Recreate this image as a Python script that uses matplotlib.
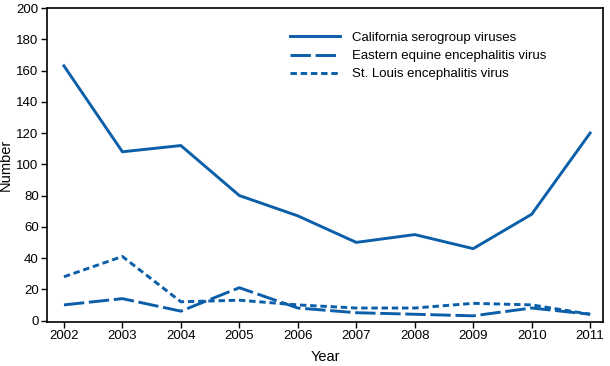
import matplotlib
matplotlib.use("Agg")
import matplotlib.pyplot as plt
from matplotlib import font_manager

years = [2002, 2003, 2004, 2005, 2006, 2007, 2008, 2009, 2010, 2011]
california = [163, 108, 112, 80, 67, 50, 55, 46, 68, 120]
eastern_equine = [10, 14, 6, 21, 8, 5, 4, 3, 8, 4]
st_louis = [28, 41, 12, 13, 10, 8, 8, 11, 10, 4]

names = ["California serogroup viruses",
         "Eastern equine encephalitis virus",
         "St. Louis encephalitis virus"]

color = "#0b5ea8"
installed = {f.name for f in font_manager.fontManager.ttflist}
narrow = "Liberation Sans Narrow" if "Liberation Sans Narrow" in installed else "Liberation Sans"
plt.rcParams["font.family"] = [narrow, "DejaVu Sans"]

fig = plt.figure(figsize=(6.1, 3.66), dpi=100)
ax = fig.add_axes([0.077, 0.12, 0.9115, 0.858])

ax.plot(years, california, color=color, linewidth=2.1, label=names[0])
ax.plot(years, eastern_equine, color=color, linewidth=2.1, dashes=(7, 1.6), label=names[1])
ax.plot(years, st_louis, color=color, linewidth=2.1, dashes=(2.2, 1.3), label=names[2])

ax.set_xlim(2001.71, 2011.22)
ax.set_ylim(-1, 200)
ax.set_xticks(years)
ax.set_yticks(range(0, 201, 20))
ax.tick_params(labelsize=9.5, length=4, width=1, color="black", direction="out", pad=2)
ax.set_xlabel("Year", fontsize=10.5)
ax.set_ylabel("Number", fontsize=10.5)
ax.xaxis.set_label_coords(0.5, -0.09)
ax.yaxis.set_label_coords(-0.062, 0.5)
for sp in ax.spines.values():
    sp.set_linewidth(1.2)

ax.legend(loc="upper left", bbox_to_anchor=(0.415, 0.962), frameon=False,
          fontsize=9.5, handlelength=3.8, handletextpad=0.9, labelspacing=0.45)

plt.savefig("out.png", dpi=100)
